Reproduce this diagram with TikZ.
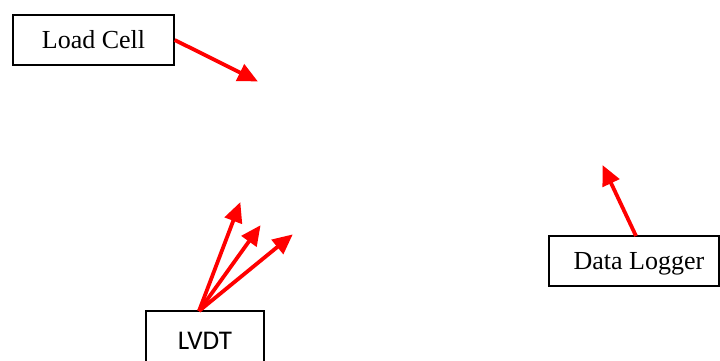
\documentclass[tikz,border=0pt]{standalone}
\usepackage{fontspec}
\setmainfont{Liberation Serif}
\newfontfamily\calfont{Carlito}
\usetikzlibrary{arrows.meta}
\tikzset{
  labelbox/.style={draw=black, line width=1.4pt, inner sep=0pt, font=\fontsize{26}{30}\selectfont},
  redarrow/.style={draw=red, line width=3.8pt, -{Triangle[length=20pt 0 0,width=18pt 0 0]}, shorten >=-1pt}
}
\begin{document}
\begin{tikzpicture}[x=1pt,y=-1pt]
\useasboundingbox (0,0) rectangle (720,361);
\node[labelbox, minimum width=161pt, minimum height=50pt] (lc) at (93.5,40) {Load Cell};
\node[labelbox, minimum width=170pt, minimum height=50pt, text depth=0pt] (dl) at (634,261) {\hspace{10pt}Data Logger};
\node[labelbox, minimum width=118pt, minimum height=60pt, font=\calfont\fontsize{27}{30}\selectfont] (lvdt) at (205,341) {LVDT};
\coordinate (lvdtp) at (199,311);
\coordinate (dlp) at (636,236);
\coordinate (t1) at (257,81);
\coordinate (t2) at (603,166);
\coordinate (t3) at (240,203);
\coordinate (t4) at (260,226);
\coordinate (t5) at (292,235);
\draw[redarrow] (lc.east) -- (t1);
\draw[redarrow] (dlp) -- (t2);
\draw[redarrow] (lvdtp) -- (t3);
\draw[redarrow] (lvdtp) -- (t4);
\draw[redarrow] (lvdtp) -- (t5);
\end{tikzpicture}
\end{document}
